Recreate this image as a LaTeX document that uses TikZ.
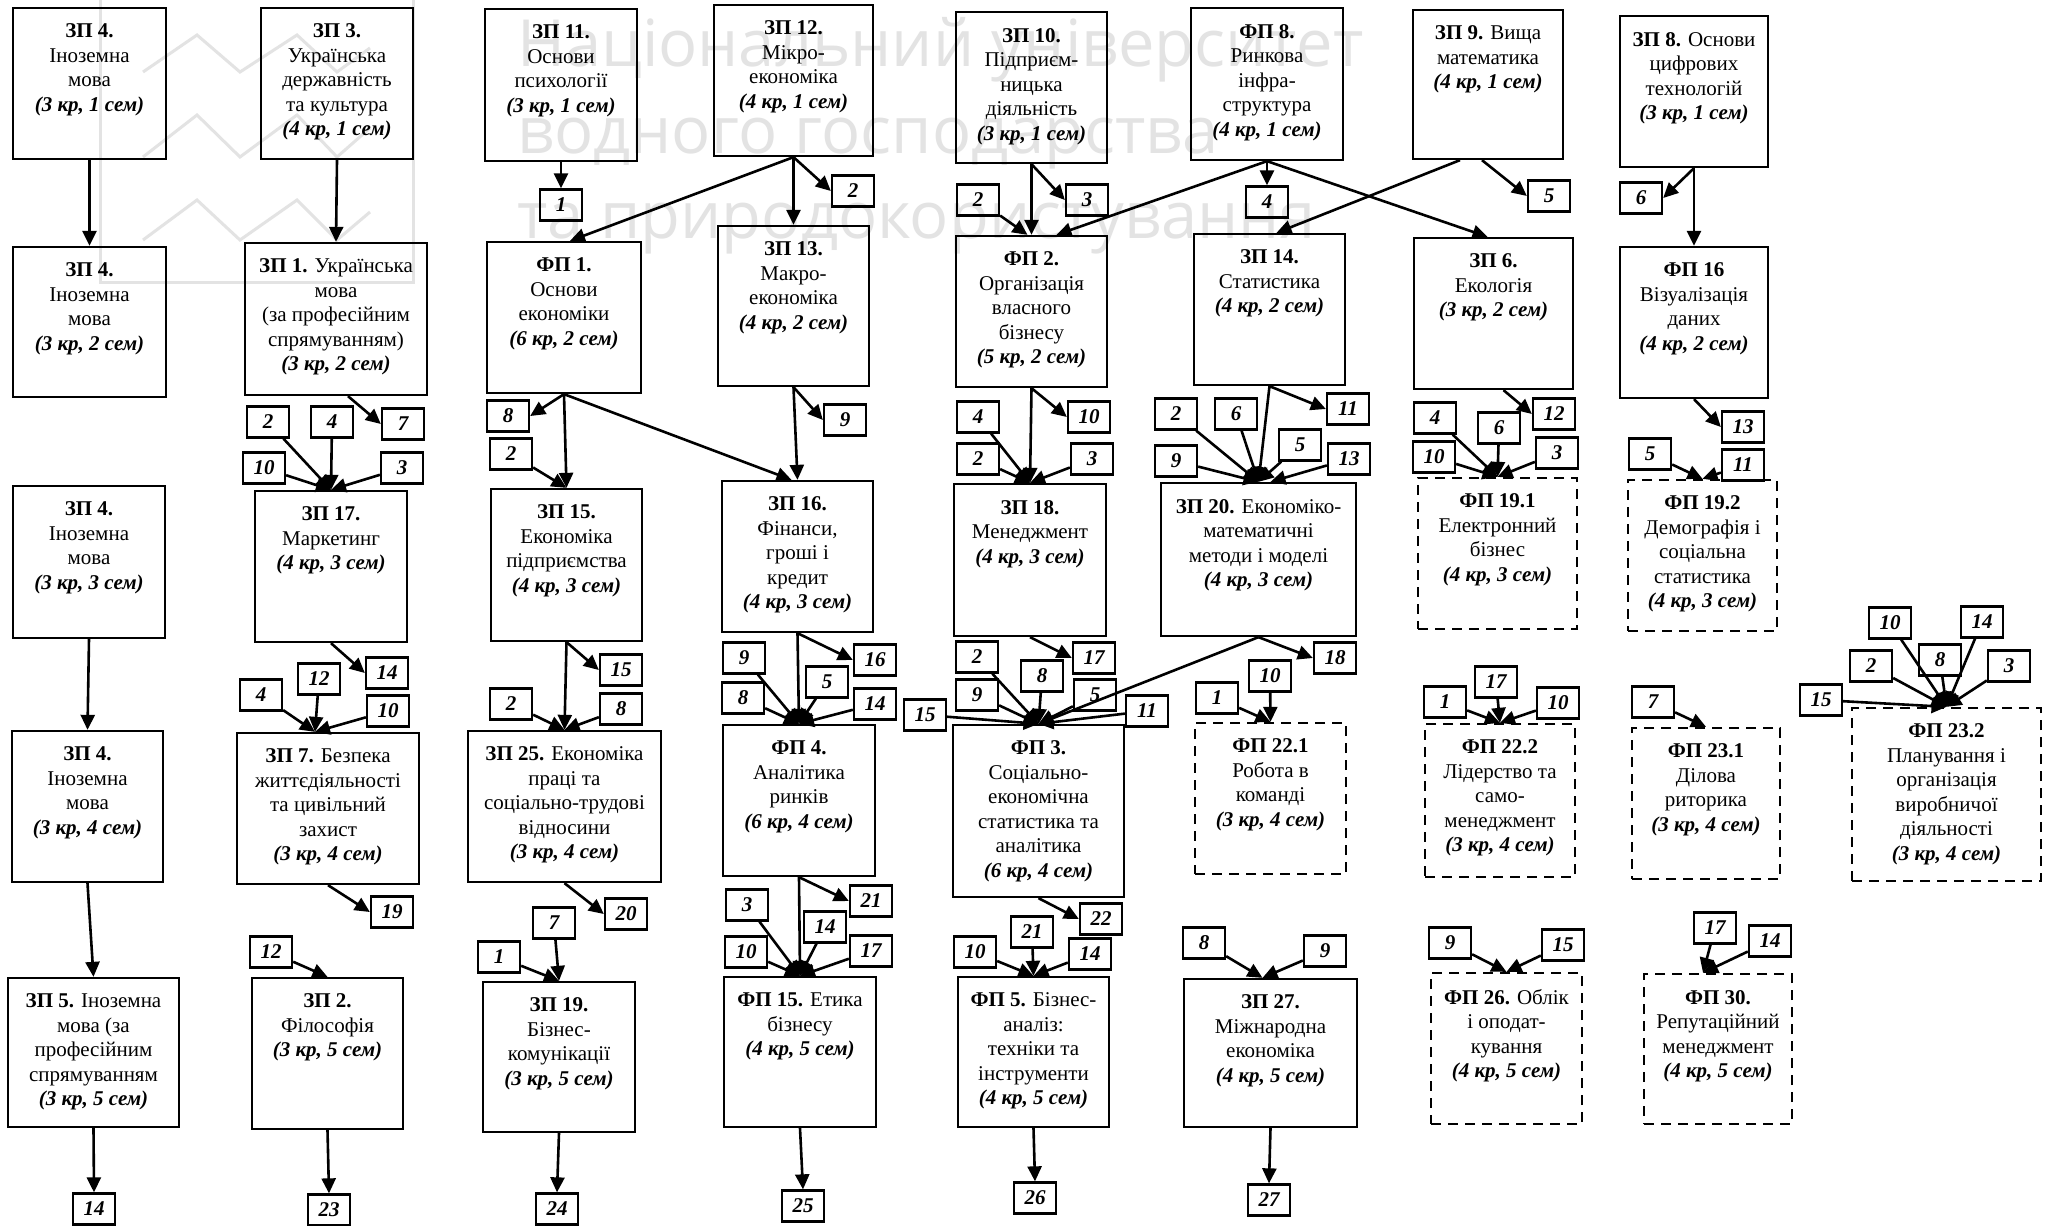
\documentclass[tikz,border=0pt]{standalone}
\usepackage{fontspec}
\setmainfont{Liberation Serif}
\newfontfamily\wmfont{Open Sans}
\usetikzlibrary{arrows.meta,fit,calc}
\newcommand\hd[1]{\textbf{#1}}
\newcommand\kr[1]{\textbf{\textit{#1}}}
\tikzset{
 box/.style={draw, line width=2.3pt, inner sep=0pt},
 dbox/.style={box, dash pattern=on 10pt off 7pt},
 txt/.style={align=center, inner sep=0pt, font=\fontsize{21}{24.5}\selectfont},
 nb/.style={draw, line width=2.3pt, minimum width=42pt, minimum height=31pt, inner sep=0pt, font=\fontsize{21}{21}\selectfont\bfseries\itshape},
 arr/.style={line width=2.6pt, -{Triangle[length=15pt,width=14pt]}},
 wm/.style={text=black!11, inner sep=0pt, font=\wmfont\fontsize{65}{65}\selectfont},
 wml/.style={draw=black!11, line width=3pt},
}
\newcommand\kbox[7][box]{%
  \node[#1, fit={(#3,#4) (#5,#6)}] (#2) {};
  \node[txt, anchor=north] (#2-t) at ($(#2.north)+(0,17)$) {#7};
}
\begin{document}
\begin{tikzpicture}[x=1pt,y=-1pt]
\fill[white] (0,0) rectangle (2065,1226);
\useasboundingbox (0,0) rectangle (2065,1226);
% watermark
\node[wm, anchor=base west] (wm1) at (517,66) {Національний університет};
\node[wm, anchor=base west] (wm2) at (517,153) {водного господарства};
\node[wm, anchor=base west] (wm3) at (517,238) {та природокористування};
\draw[wml] (100,-5) -- (100,282) -- (413,282) -- (413,-5);
\draw[wml] (143,72) -- (197,35) -- (240,72) -- (297,35) -- (337,72) -- (370,48);
\draw[wml] (143,157) -- (197,115) -- (240,157) -- (297,115) -- (337,157) -- (370,128);
\draw[wml] (143,240) -- (197,200) -- (240,240) -- (297,200) -- (337,240) -- (370,212);
% row 1
\kbox{zp4a}{13}{8}{166}{159}{\hd{ЗП 4.}\\Іноземна\\мова\\\kr{(3 кр, 1 сем)}}
\kbox{zp3}{261}{8}{413}{159}{\hd{ЗП 3.}\\Українська\\державність\\та культура\\\kr{(4 кр, 1 сем)}}
\kbox{zp11}{485}{9}{637}{161}{\hd{ЗП 11.}\\Основи\\психології\\\kr{(3 кр, 1 сем)}}
\kbox{zp12}{714}{5}{873}{156}{\hd{ЗП 12.}\\Мікро-\\економіка\\\kr{(4 кр, 1 сем)}}
\kbox{zp10}{956}{12}{1107}{163}{\hd{ЗП 10.}\\Підприєм-\\ницька\\діяльність\\\kr{(3 кр, 1 сем)}}
\kbox{fp8}{1191}{8}{1343}{160}{\hd{ФП 8.}\\Ринкова\\інфра-\\структура\\\kr{(4 кр, 1 сем)}}
\kbox{zp9}{1413}{10}{1563}{159}{\hd{ЗП 9.} Вища\\математика\\\kr{(4 кр, 1 сем)}}
\kbox{zp8}{1620}{16}{1768}{167}{\hd{ЗП 8.} Основи\\цифрових\\технологій\\\kr{(3 кр, 1 сем)}}
% row 2
\kbox{zp4b}{13}{247}{166}{397}{\hd{ЗП 4.}\\Іноземна\\мова\\\kr{(3 кр, 2 сем)}}
\kbox{zp1}{245}{243}{427}{395}{\hd{ЗП 1.} Українська\\мова\\(за професійним\\спрямуванням)\\\kr{(3 кр, 2 сем)}}
\kbox{fp1}{487}{242}{641}{393}{\hd{ФП 1.}\\Основи\\економіки\\\kr{(6 кр, 2 сем)}}
\kbox{zp13}{718}{226}{869}{386}{\hd{ЗП 13.}\\Макро-\\економіка\\\kr{(4 кр, 2 сем)}}
\kbox{fp2}{956}{236}{1107}{387}{\hd{ФП 2.}\\Організація\\власного\\бізнесу\\\kr{(5 кр, 2 сем)}}
\kbox{zp14}{1194}{234}{1345}{385}{\hd{ЗП 14.}\\Статистика\\\kr{(4 кр, 2 сем)}}
\kbox{zp6}{1414}{238}{1573}{389}{\hd{ЗП 6.}\\Екологія\\\kr{(3 кр, 2 сем)}}
\kbox{fp16}{1620}{247}{1768}{398}{\hd{ФП 16}\\Візуалізація\\даних\\\kr{(4 кр, 2 сем)}}
% row 3
\kbox{zp4c}{13}{486}{165}{638}{\hd{ЗП 4.}\\Іноземна\\мова\\\kr{(3 кр, 3 сем)}}
\kbox{zp17}{255}{491}{407}{642}{\hd{ЗП 17.}\\Маркетинг\\\kr{(4 кр, 3 сем)}}
\kbox{zp15}{491}{489}{642}{641}{\hd{ЗП 15.}\\Економіка\\підприємства\\\kr{(4 кр, 3 сем)}}
\kbox{zp16}{722}{481}{873}{632}{\hd{ЗП 16.}\\Фінанси,\\гроші і\\кредит\\\kr{(4 кр, 3 сем)}}
\kbox{zp18}{954}{484}{1106}{636}{\hd{ЗП 18.}\\Менеджмент\\\kr{(4 кр, 3 сем)}}
\kbox{zp20}{1161}{483}{1356}{636}{\hd{ЗП 20.} Економіко-\\математичні\\методи і моделі\\\kr{(4 кр, 3 сем)}}
\kbox[dbox]{fp191}{1418}{478}{1577}{629}{\hd{ФП 19.1}\\Електронний\\бізнес\\\kr{(4 кр, 3 сем)}}
\kbox[dbox]{fp192}{1628}{480}{1777}{631}{\hd{ФП 19.2}\\Демографія і\\соціальна\\статистика\\\kr{(4 кр, 3 сем)}}
% row 4
\kbox{zp4d}{12}{731}{163}{882}{\hd{ЗП 4.}\\Іноземна\\мова\\\kr{(3 кр, 4 сем)}}
\kbox{zp7}{237}{733}{419}{884}{\hd{ЗП 7.} Безпека\\життєдіяльності\\та цивільний\\захист\\\kr{(3 кр, 4 сем)}}
\kbox{zp25}{468}{731}{661}{882}{\hd{ЗП 25.} Економіка\\праці та\\соціально-трудові\\відносини\\\kr{(3 кр, 4 сем)}}
\kbox{fp4}{723}{725}{875}{876}{\hd{ФП 4.}\\Аналітика\\ринків\\\kr{(6 кр, 4 сем)}}
\kbox{fp3}{953}{725}{1124}{897}{\hd{ФП 3.}\\Соціально-\\економічна\\статистика та\\аналітика\\\kr{(6 кр, 4 сем)}}
\kbox[dbox]{fp221}{1195}{723}{1346}{874}{\hd{ФП 22.1}\\Робота в\\команді\\\kr{(3 кр, 4 сем)}}
\kbox[dbox]{fp222}{1425}{724}{1575}{877}{\hd{ФП 22.2}\\Лідерство та\\само-\\менеджмент\\\kr{(3 кр, 4 сем)}}
\kbox[dbox]{fp231}{1632}{728}{1780}{879}{\hd{ФП 23.1}\\Ділова\\риторика\\\kr{(3 кр, 4 сем)}}
\kbox[dbox]{fp232}{1852}{708}{2041}{881}{\hd{ФП 23.2}\\Планування і\\організація\\виробничої\\діяльності\\\kr{(3 кр, 4 сем)}}
% row 5
\kbox{zp5}{8}{978}{179}{1127}{\hd{ЗП 5.} Іноземна\\мова (за\\професійним\\спрямуванням\\\kr{(3 кр, 5 сем)}}
\kbox{zp2}{252}{978}{403}{1129}{\hd{ЗП 2.}\\Філософія\\\kr{(3 кр, 5 сем)}}
\kbox{zp19}{483}{982}{635}{1132}{\hd{ЗП 19.}\\Бізнес-\\комунікації\\\kr{(3 кр, 5 сем)}}
\kbox{fp15}{724}{977}{876}{1127}{\hd{ФП 15.} Етика\\бізнесу\\\kr{(4 кр, 5 сем)}}
\kbox{fp5}{958}{977}{1109}{1127}{\hd{ФП 5.} Бізнес-\\аналіз:\\техніки та\\інструменти\\\kr{(4 кр, 5 сем)}}
\kbox{zp27}{1184}{979}{1357}{1127}{\hd{ЗП 27.}\\Міжнародна\\економіка\\\kr{(4 кр, 5 сем)}}
\kbox[dbox]{fp26}{1431}{973}{1582}{1124}{\hd{ФП 26.} Облік\\і оподат-\\кування\\\kr{(4 кр, 5 сем)}}
\kbox[dbox]{fp30}{1644}{974}{1792}{1124}{\hd{ФП 30.}\\Репутаційний\\менеджмент\\\kr{(4 кр, 5 сем)}}
% number boxes
\node[nb] (a1) at (561,205) {1};
\node[nb] (a2) at (853,191) {2};
\node[nb] (b2) at (978,200) {2};
\node[nb] (b3) at (1087,200) {3};
\node[nb] (b4) at (1267,202) {4};
\node[nb] (b5) at (1549,196) {5};
\node[nb] (b6) at (1641,198) {6};
\node[nb] (c2) at (268,422) {2};
\node[nb] (c4) at (332,422) {4};
\node[nb] (c7) at (403,424) {7};
\node[nb] (c10) at (264,468) {10};
\node[nb] (c3) at (402,468) {3};
\node[nb] (c8) at (508,416) {8};
\node[nb] (cc2) at (511,454) {2};
\node[nb] (c9) at (845,420) {9};
\node[nb] (d4) at (978,417) {4};
\node[nb] (d10) at (1089,417) {10};
\node[nb] (d2) at (978,459) {2};
\node[nb] (d3) at (1092,459) {3};
\node[nb] (e2) at (1176,414) {2};
\node[nb] (e6) at (1236,414) {6};
\node[nb] (e11) at (1348,409) {11};
\node[nb] (e5) at (1300,445) {5};
\node[nb] (e9) at (1176,461) {9};
\node[nb] (e13) at (1349,459) {13};
\node[nb] (f4) at (1435,418) {4};
\node[nb] (f6) at (1499,428) {6};
\node[nb] (f12) at (1554,414) {12};
\node[nb] (f10) at (1434,457) {10};
\node[nb] (f3) at (1557,453) {3};
\node[nb] (g13) at (1743,427) {13};
\node[nb] (g5) at (1650,454) {5};
\node[nb] (g11) at (1743,465) {11};
\node[nb] (h14) at (387,673) {14};
\node[nb] (h12) at (319,679) {12};
\node[nb] (h4) at (261,695) {4};
\node[nb] (h10) at (388,711) {10};
\node[nb] (i15) at (621,670) {15};
\node[nb] (i2) at (511,704) {2};
\node[nb] (i8) at (621,709) {8};
\node[nb] (j9) at (744,658) {9};
\node[nb] (j8) at (743,698) {8};
\node[nb] (j16) at (875,660) {16};
\node[nb] (j5) at (827,682) {5};
\node[nb] (j14) at (875,704) {14};
\node[nb] (k2) at (977,657) {2};
\node[nb] (k9) at (977,695) {9};
\node[nb] (k15) at (925,715) {15};
\node[nb] (k17) at (1094,658) {17};
\node[nb] (k8) at (1042,676) {8};
\node[nb] (k5) at (1095,695) {5};
\node[nb] (k11) at (1147,711) {11};
\node[nb] (l18) at (1335,658) {18};
\node[nb] (l1) at (1217,698) {1};
\node[nb] (l10) at (1270,676) {10};
\node[nb] (m1) at (1445,702) {1};
\node[nb] (m17) at (1496,682) {17};
\node[nb] (m10) at (1558,703) {10};
\node[nb] (n7) at (1653,702) {7};
\node[nb] (o10) at (1890,623) {10};
\node[nb] (o14) at (1982,622) {14};
\node[nb] (o2) at (1871,666) {2};
\node[nb] (o8) at (1940,660) {8};
\node[nb] (o3) at (2009,666) {3};
\node[nb] (o15) at (1821,700) {15};
\node[nb] (p19) at (392,912) {19};
\node[nb] (p12) at (271,952) {12};
\node[nb] (p20) at (626,914) {20};
\node[nb] (p1) at (499,957) {1};
\node[nb] (p7) at (554,923) {7};
\node[nb] (q3) at (747,905) {3};
\node[nb] (q10) at (746,952) {10};
\node[nb] (q21) at (871,901) {21};
\node[nb] (q14) at (825,927) {14};
\node[nb] (q17) at (871,951) {17};
\node[nb] (r22) at (1101,919) {22};
\node[nb] (r21) at (1032,932) {21};
\node[nb] (r10) at (975,952) {10};
\node[nb] (r14) at (1090,954) {14};
\node[nb] (s8) at (1204,943) {8};
\node[nb] (s9) at (1325,951) {9};
\node[nb] (t9) at (1450,943) {9};
\node[nb] (t15) at (1563,945) {15};
\node[nb] (u17) at (1715,928) {17};
\node[nb] (u14) at (1770,941) {14};
\node[nb] (v14) at (94,1209) {14};
\node[nb] (v23) at (329,1210) {23};
\node[nb] (v24) at (557,1209) {24};
\node[nb] (v25) at (803,1206) {25};
\node[nb] (v26) at (1035,1198) {26};
\node[nb] (v27) at (1269,1200) {27};
% arrows row1 -> row2
\draw[arr] (zp4a.south) -- (zp4b.north);
\draw[arr] (zp3.south) -- (zp1.north);
\draw[arr] (zp11.south) -- (a1.north);
\draw[arr] (zp12.south) -- ([xshift=6pt]fp1.north);
\draw[arr] (zp12.south) -- (zp13.north);
\draw[arr] (zp12.south) -- (a2.west);
\draw[arr] (zp10.south) -- (fp2.north);
\draw[arr] (zp10.south) -- (b3.west);
\draw[arr] (b2) -- ([xshift=-4pt]fp2.north);
\draw[arr] (fp8.south) -- ([xshift=25pt]fp2.north);
\draw[arr] (fp8.south) -- (b4.north);
\draw[arr] (fp8.south) -- ([xshift=-6pt]zp6.north);
\draw[arr] ([xshift=-28pt]zp9.south) -- ([xshift=7pt]zp14.north);
\draw[arr] ([xshift=-6pt]zp9.south) -- (b5.west);
\draw[arr] (zp8.south) -- (fp16.north);
\draw[arr] (zp8.south) -- (b6.east);
% row2 -> row3
\draw[arr] ([xshift=12pt]zp1.south) -- (c7.west);
\draw[arr] (c2) -- (zp17.north);
\draw[arr] (c4) -- (zp17.north);
\draw[arr] (c10) -- (zp17.north);
\draw[arr] (c3) -- (zp17.north);
\draw[arr] (fp1.south) -- (c8.east);
\draw[arr] (fp1.south) -- (zp15.north);
\draw[arr] (fp1.south) -- ([xshift=-6pt]zp16.north);
\draw[arr] (cc2) -- (zp15.north);
\draw[arr] (zp13.south) -- (zp16.north);
\draw[arr] (zp13.south) -- (c9.west);
\draw[arr] (fp2.south) -- (zp18.north);
\draw[arr] (fp2.south) -- (d10.west);
\draw[arr] (d4) -- (zp18.north);
\draw[arr] (d2) -- (zp18.north);
\draw[arr] (d3) -- (zp18.north);
\draw[arr] (zp14.south) -- (zp20.north);
\draw[arr] (zp14.south) -- (e11.west);
\draw[arr] (e2) -- (zp20.north);
\draw[arr] (e6) -- (zp20.north);
\draw[arr] (e9) -- (zp20.north);
\draw[arr] (e5) -- (zp20.north);
\draw[arr] (e13) -- ([xshift=12pt]zp20.north);
\draw[arr] ([xshift=10pt]zp6.south) -- (f12.west);
\draw[arr] (f4) -- (fp191.north);
\draw[arr] (f6) -- (fp191.north);
\draw[arr] (f10) -- (fp191.north);
\draw[arr] (f3) -- (fp191.north);
\draw[arr] (fp16.south) -- (g13.west);
\draw[arr] (g5) -- (fp192.north);
\draw[arr] (g11) -- (fp192.north);
% row3 -> row4
\draw[arr] (zp4c.south) -- (zp4d.north);
\draw[arr] (zp17.south) -- (h14.west);
\draw[arr] (h4) -- ([xshift=-13pt]zp7.north);
\draw[arr] (h12) -- ([xshift=-13pt]zp7.north);
\draw[arr] (h10) -- ([xshift=-13pt]zp7.north);
\draw[arr] (zp15.south) -- (i15.west);
\draw[arr] (zp15.south) -- (zp25.north);
\draw[arr] (i2) -- (zp25.north);
\draw[arr] (i8) -- (zp25.north);
\draw[arr] (zp16.south) -- (j16.west);
\draw[arr] (zp16.south) -- (fp4.north);
\draw[arr] (j9) -- (fp4.north);
\draw[arr] (j8) -- (fp4.north);
\draw[arr] (j5) -- (fp4.north);
\draw[arr] (j14) -- (fp4.north);
\draw[arr] (zp18.south) -- (k17.west);
\draw[arr] (k2) -- (fp3.north);
\draw[arr] (k9) -- (fp3.north);
\draw[arr] (k15) -- (fp3.north);
\draw[arr] (k8) -- (fp3.north);
\draw[arr] (k5) -- (fp3.north);
\draw[arr] (k11) -- (fp3.north);
\draw[arr] (zp20.south) -- (fp3.north);
\draw[arr] (zp20.south) -- (l18.west);
\draw[arr] (l1) -- (fp221.north);
\draw[arr] (l10) -- (fp221.north);
\draw[arr] (m1) -- (fp222.north);
\draw[arr] (m17) -- (fp222.north);
\draw[arr] (m10) -- (fp222.north);
\draw[arr] (n7) -- (fp231.north);
\draw[arr] (o15) -- (fp232.north);
\draw[arr] (o2) -- (fp232.north);
\draw[arr] (o10) -- (fp232.north);
\draw[arr] (o8) -- (fp232.north);
\draw[arr] (o14) -- (fp232.north);
\draw[arr] (o3) -- (fp232.north);
% row4 -> row5
\draw[arr] (zp4d.south) -- (zp5.north);
\draw[arr] (zp7.south) -- (p19.west);
\draw[arr] (p12) -- (zp2.north);
\draw[arr] (zp25.south) -- (p20.west);
\draw[arr] (p1) -- (zp19.north);
\draw[arr] (p7) -- (zp19.north);
\draw[arr] (fp4.south) -- (fp15.north);
\draw[arr] (fp4.south) -- (q21.west);
\draw[arr] (q3) -- (fp15.north);
\draw[arr] (q10) -- (fp15.north);
\draw[arr] (q14) -- (fp15.north);
\draw[arr] (q17) -- (fp15.north);
\draw[arr] (fp3.south) -- (r22.west);
\draw[arr] (r21) -- (fp5.north);
\draw[arr] (r10) -- (fp5.north);
\draw[arr] (r14) -- (fp5.north);
\draw[arr] (s8) -- ([xshift=-8pt]zp27.north);
\draw[arr] (s9) -- ([xshift=-8pt]zp27.north);
\draw[arr] (t9) -- (fp26.north);
\draw[arr] (t15) -- (fp26.north);
\draw[arr] (u17) -- ([xshift=-15pt]fp30.north);
\draw[arr] (u14) -- ([xshift=-15pt]fp30.north);
% row5 -> bottom
\draw[arr] (zp5.south) -- (v14.north);
\draw[arr] (zp2.south) -- (v23.north);
\draw[arr] (zp19.south) -- (v24.north);
\draw[arr] (fp15.south) -- (v25.north);
\draw[arr] (fp5.south) -- (v26.north);
\draw[arr] (zp27.south) -- (v27.north);
\end{tikzpicture}
\end{document}
